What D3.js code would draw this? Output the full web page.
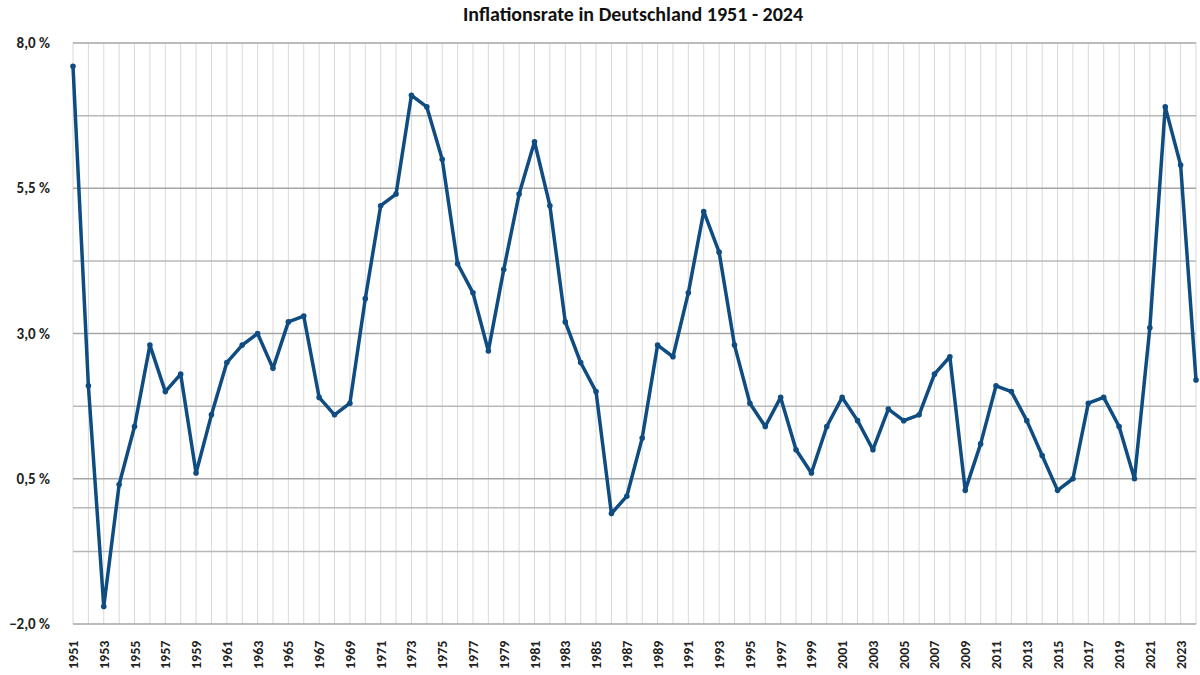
<!DOCTYPE html>
<html><head><meta charset="utf-8">
<script src="https://cdn.jsdelivr.net/npm/d3@7"></script>
<style>body{margin:0;background:#fff}text{font-family:Calibri,"Liberation Sans Narrow","Open Sans",sans-serif}</style>
</head><body>
<script>
var years = d3.range(1951, 2025)
var rates = [7.6,2.1,-1.7,0.4,1.4,2.8,2.0,2.3,0.6,1.6,
  2.5,2.8,3.0,2.4,3.2,3.3,1.9,1.6,1.8,3.6,
  5.2,5.4,7.1,6.9,6.0,4.2,3.7,2.7,4.1,5.4,
  6.3,5.2,3.2,2.5,2.0,-0.1,0.2,1.2,2.8,2.6,
  3.7,5.1,4.4,2.8,1.8,1.4,1.9,1.0,0.6,1.4,
  1.9,1.5,1.0,1.7,1.5,1.6,2.3,2.6,0.3,1.1,
  2.1,2.0,1.5,0.9,0.3,0.5,1.8,1.9,1.4,0.5,
  3.1,6.9,5.9,2.2]
var yLabels = [-2, 0.5, 3, 5.5, 8]
var gridVals = [-0.75, 0, 1.75, 4.25, 6.75]

var W = 1200, H = 675
var svg = d3.select("body").append("svg").attr("width", W).attr("height", H)

var x = d3.scaleLinear().domain([1951, 2024]).range([73, 1196])
var y = d3.scaleLinear().domain([-2, 8]).range([624, 43])

// vertical year grid
svg.append("g").selectAll("line").data(years).enter().append("line")
  .attr("x1", function(d){ return x(d) }).attr("x2", function(d){ return x(d) })
  .attr("y1", 43).attr("y2", 624)
  .style("stroke", "#d9d9d9").style("stroke-width", "1px")

// horizontal grid
svg.append("g").selectAll("line").data(yLabels.concat(gridVals)).enter().append("line")
  .attr("x1", 73).attr("x2", 1196)
  .attr("y1", function(d){ return y(d) }).attr("y2", function(d){ return y(d) })
  .style("stroke", function(d){ return yLabels.indexOf(d) >= 0 ? "#a6a6a6" : "#b8b8b8" })
  .style("stroke-width", "1.5px")

// y labels
svg.append("g").selectAll("text").data(yLabels).enter().append("text")
  .attr("x", 50).attr("y", function(d){ return y(d) + 5 })
  .attr("text-anchor", "end").style("font-size", "15px").style("font-weight", "bold").style("fill", "#222")
  .text(function(d){ return d3.format(".1f")(d).replace(".", ",") + " %" })

// x labels
svg.append("g").selectAll("text").data(years.filter(function(d){ return d % 2 == 1 })).enter().append("text")
  .attr("transform", function(d){ return "translate(" + (x(d) + 5) + ",669) rotate(-90)" })
  .style("font-size", "14px").style("font-weight", "bold").style("fill", "#222")
  .text(function(d){ return d })

var line = d3.line().x(function(d, i){ return x(years[i]) }).y(function(d){ return y(d) })
svg.append("path").datum(rates).attr("d", line)
  .style("fill", "none").style("stroke", "#0f4c81").style("stroke-width", "3.5px").style("stroke-linejoin", "round")

svg.append("g").selectAll("circle").data(rates).enter().append("circle")
  .attr("cx", function(d, i){ return x(years[i]) }).attr("cy", function(d){ return y(d) })
  .attr("r", 2.8).style("fill", "#0f4c81")

svg.append("text").attr("x", 633).attr("y", 21).attr("text-anchor", "middle")
  .style("font-size", "20px").style("font-weight", "bold").style("fill", "#111")
  .text("Inflationsrate in Deutschland 1951 - 2024")
</script>
</body></html>
